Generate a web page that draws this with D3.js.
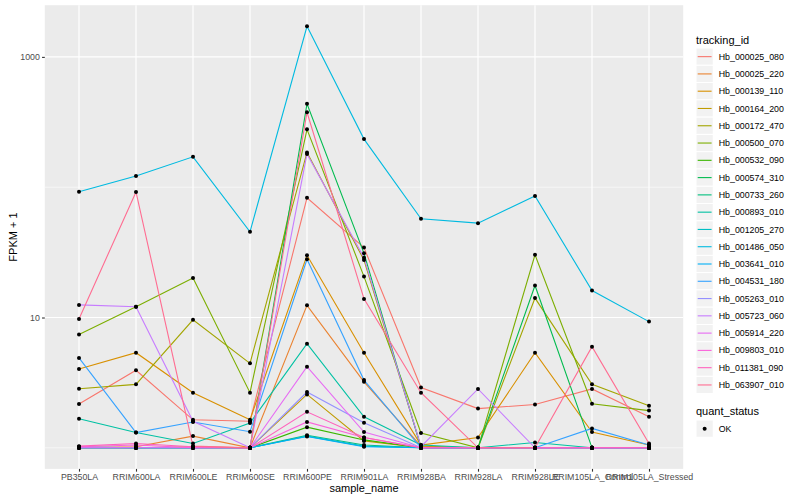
<!DOCTYPE html>
<html>
<head>
<meta charset="utf-8">
<script src="https://cdn.jsdelivr.net/npm/d3@7"></script>
<style>
  body { margin: 0; background: #fff; }
  text { font-family: "Liberation Sans", Arial, sans-serif; }
</style>
</head>
<body>
<script>
//x categories
var samples = ["PB350LA", "RRIM600LA", "RRIM600LE", "RRIM600SE", "RRIM600PE", "RRIM901LA",
               "RRIM928BA", "RRIM928LA", "RRIM928LE", "RRIM105LA_Control", "RRIM105LA_Stressed"];

//series names and their hue colours
var trackingIds = ["Hb_000025_080", "Hb_000025_220", "Hb_000139_110", "Hb_000164_200", "Hb_000172_470",
                   "Hb_000500_070", "Hb_000532_090", "Hb_000574_310", "Hb_000733_260", "Hb_000893_010",
                   "Hb_001205_270", "Hb_001486_050", "Hb_003641_010", "Hb_004531_180", "Hb_005263_010",
                   "Hb_005723_060", "Hb_005914_220", "Hb_009803_010", "Hb_011381_090", "Hb_063907_010"];
var colours = ["#F8766D", "#EA8331", "#D89000", "#C09B00", "#A3A500", "#7CAE00", "#39B600", "#00BB4E",
               "#00BF7D", "#00C1A3", "#00BFC4", "#00BAE0", "#00B0F6", "#35A2FF", "#9590FF", "#C77CFF",
               "#E76BF3", "#FA62DB", "#FF62BC", "#FF6C91"];

//FPKM + 1, one row per tracking_id, one value per sample
var fpkm = [
  [2.17, 3.94, 1.64, 1.6, 83, 34.4, 2.9, 2.0, 2.15, 2.83, 1.73],     //Hb_000025_080
  [1.0, 1.02, 1.23, 1.0, 12.4, 3.21, 1.03, 1.0, 1.0, 1.0, 1.0],      //Hb_000025_220
  [4.03, 5.37, 2.65, 1.64, 30, 5.37, 1.05, 1.2, 5.37, 1.32, 1.05],   //Hb_000139_110
  [1.0, 1.0, 1.02, 1.0, 2.57, 1.13, 1.0, 1.0, 1.0, 1.0, 1.0],        //Hb_000164_200
  [2.84, 3.07, 9.6, 4.45, 185, 27.6, 1.02, 1.0, 14.1, 3.07, 2.1],    //Hb_000172_470
  [7.4, 12.1, 20.1, 2.65, 278, 20.6, 1.3, 1.0, 30.3, 2.18, 1.93],    //Hb_000500_070
  [1.0, 1.0, 1.0, 1.0, 1.44, 1.15, 1.0, 1.0, 1.0, 1.0, 1.0],         //Hb_000532_090
  [1.0, 1.0, 1.0, 1.0, 437, 31.1, 1.0, 1.0, 17.6, 1.0, 1.0],         //Hb_000574_310
  [1.02, 1.0, 1.0, 1.0, 1.25, 1.05, 1.0, 1.0, 1.0, 1.0, 1.0],        //Hb_000733_260
  [1.67, 1.31, 1.08, 1.55, 6.3, 1.73, 1.05, 1.0, 1.1, 1.0, 1.0],     //Hb_000893_010
  [1.0, 1.0, 1.0, 1.0, 1.23, 1.03, 1.0, 1.0, 1.0, 1.0, 1.0],         //Hb_001205_270
  [92.3, 122, 171, 45.5, 1718, 234, 57.3, 53, 85.5, 16.1, 9.3],      //Hb_001486_050
  [1.0, 1.0, 1.0, 1.0, 1.22, 1.02, 1.0, 1.0, 1.0, 1.0, 1.0],         //Hb_003641_010
  [4.9, 1.31, 1.58, 1.33, 28, 3.31, 1.0, 1.0, 1.0, 1.41, 1.05],      //Hb_004531_180
  [1.0, 1.0, 1.0, 1.0, 2.68, 1.56, 1.0, 1.0, 1.0, 1.0, 1.0],         //Hb_005263_010
  [12.5, 12.1, 1.6, 1.0, 180, 28.8, 1.02, 2.83, 1.0, 1.0, 1.0],      //Hb_005723_060
  [1.0, 1.0, 1.0, 1.0, 4.19, 1.32, 1.0, 1.0, 1.0, 1.0, 1.0],         //Hb_005914_220
  [1.02, 1.05, 1.0, 1.0, 1.58, 1.2, 1.0, 1.0, 1.0, 1.0, 1.0],        //Hb_009803_010
  [1.03, 1.08, 1.02, 1.0, 1.89, 1.2, 1.0, 1.0, 1.0, 1.0, 1.0],       //Hb_011381_090
  [9.75, 92, 1.03, 1.0, 376, 13.9, 2.65, 1.0, 1.0, 5.97, 1.08]       //Hb_063907_010
];

var yMajor = [10, 1000],
    yMinor = [1, 100];
var statusLevels = ["OK"];

window.onload = drawChart();

function drawChart(){
    var width = 800,
        height = 500;

    //panel box
    var left = 44.8, right = 683.2, top = 5.2, bottom = 468.9;

    var svg = d3.select("body")
        .append("svg")
        .attr("width", width)
        .attr("height", height);

    //x: discrete with 0.6 expansion each side
    var x = d3.scalePoint()
        .domain(samples)
        .range([left, right])
        .padding(0.6);

    //y: log10 with 5% expansion
    var all = d3.merge(fpkm);
    var lo = Math.log10(d3.min(all)), hi = Math.log10(d3.max(all));
    var pad = (hi - lo) * 0.05;
    var y = d3.scaleLog()
        .domain([Math.pow(10, lo - pad), Math.pow(10, hi + pad)])
        .range([bottom, top]);

    //panel background
    svg.append("rect")
        .attr("x", left).attr("y", top)
        .attr("width", right - left).attr("height", bottom - top)
        .attr("fill", "#EBEBEB");

    //minor grid
    svg.selectAll(".minor")
        .data(yMinor)
        .enter()
        .append("line")
        .attr("x1", left).attr("x2", right)
        .attr("y1", function(d){ return y(d); })
        .attr("y2", function(d){ return y(d); })
        .attr("stroke", "#fff")
        .attr("stroke-width", 0.6);

    //major grid
    svg.selectAll(".majorY")
        .data(yMajor)
        .enter()
        .append("line")
        .attr("x1", left).attr("x2", right)
        .attr("y1", function(d){ return y(d); })
        .attr("y2", function(d){ return y(d); })
        .attr("stroke", "#fff")
        .attr("stroke-width", 1.2);

    svg.selectAll(".majorX")
        .data(samples)
        .enter()
        .append("line")
        .attr("x1", function(d){ return x(d); })
        .attr("x2", function(d){ return x(d); })
        .attr("y1", top).attr("y2", bottom)
        .attr("stroke", "#fff")
        .attr("stroke-width", 1.2);

    //lines
    var line = d3.line()
        .x(function(d, i){ return x(samples[i]); })
        .y(function(d){ return y(d); });

    svg.selectAll(".series")
        .data(fpkm)
        .enter()
        .append("path")
        .attr("d", line)
        .attr("fill", "none")
        .attr("stroke", function(d, i){ return colours[i]; })
        .attr("stroke-width", 1.1);

    //points on top
    fpkm.forEach(function(row){
        svg.append("g")
            .selectAll("circle")
            .data(row)
            .enter()
            .append("circle")
            .attr("cx", function(d, i){ return x(samples[i]); })
            .attr("cy", function(d){ return y(d); })
            .attr("r", 2)
            .attr("fill", "#000");
    });

    //axes
    var xAxis = svg.append("g")
        .attr("transform", "translate(0," + bottom + ")")
        .call(d3.axisBottom(x).tickSize(2.75).tickPadding(2.2));
    var yAxis = svg.append("g")
        .attr("transform", "translate(" + left + ",0)")
        .call(d3.axisLeft(y).tickValues(yMajor).tickFormat(d3.format("d")).tickSize(2.75).tickPadding(2.2));

    [xAxis, yAxis].forEach(function(a){
        a.select(".domain").remove();
        a.selectAll(".tick line").attr("stroke", "#333333").attr("stroke-width", 1.1);
        a.selectAll(".tick text")
            .attr("fill", "#4D4D4D")
            .style("font-size", "8.8px")
            .style("font-family", "Liberation Sans, Arial, sans-serif");
    });

    //axis titles
    svg.append("text")
        .attr("x", (left + right) / 2)
        .attr("y", 492)
        .attr("text-anchor", "middle")
        .style("font-size", "11px")
        .text("sample_name");

    svg.append("text")
        .attr("transform", "translate(17," + ((top + bottom) / 2) + ") rotate(-90)")
        .attr("text-anchor", "middle")
        .style("font-size", "11px")
        .text("FPKM + 1");

    //legend: tracking_id
    var lx = 696, key = 17.28, ly = 48;
    svg.append("text")
        .attr("x", lx).attr("y", 44)
        .style("font-size", "11px")
        .text("tracking_id");

    var items = svg.selectAll(".key")
        .data(trackingIds)
        .enter()
        .append("g")
        .attr("transform", function(d, i){ return "translate(" + lx + "," + (ly + i * key) + ")"; });

    items.append("rect")
        .attr("width", key).attr("height", key)
        .attr("fill", "#F2F2F2")
        .attr("stroke", "#fff")
        .attr("stroke-width", 1);

    items.append("line")
        .attr("x1", 1.7).attr("x2", key - 1.7)
        .attr("y1", key / 2).attr("y2", key / 2)
        .attr("stroke", function(d, i){ return colours[i]; })
        .attr("stroke-width", 1.1);

    items.append("text")
        .attr("x", key + 5.5)
        .attr("y", key / 2 + 3.1)
        .style("font-size", "8.8px")
        .text(function(d){ return d; });

    //legend: quant_status
    svg.append("text")
        .attr("x", lx).attr("y", 415)
        .style("font-size", "11px")
        .text("quant_status");

    var st = svg.selectAll(".status")
        .data(statusLevels)
        .enter()
        .append("g")
        .attr("transform", function(d, i){ return "translate(" + lx + "," + (420 + i * key) + ")"; });

    st.append("rect")
        .attr("width", key).attr("height", key)
        .attr("fill", "#F2F2F2")
        .attr("stroke", "#fff");

    st.append("circle")
        .attr("cx", key / 2).attr("cy", key / 2)
        .attr("r", 2)
        .attr("fill", "#000");

    st.append("text")
        .attr("x", key + 5.5)
        .attr("y", key / 2 + 3.1)
        .style("font-size", "8.8px")
        .text(function(d){ return d; });
}
</script>
</body>
</html>
